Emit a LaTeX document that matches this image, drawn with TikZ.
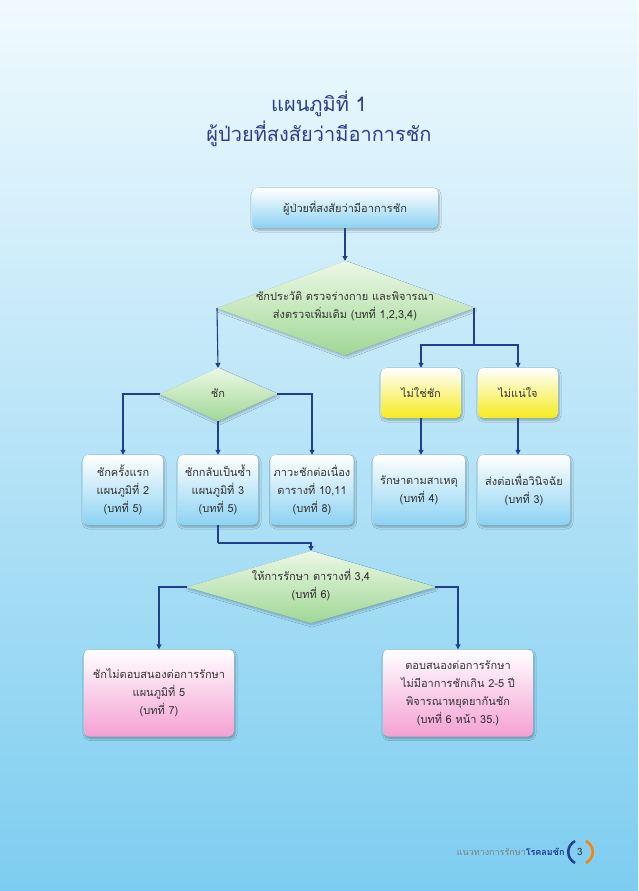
\documentclass[tikz,border=0pt]{standalone}
\usepackage{fontspec}
\setmainfont{Loma}[Script=Thai]
\usetikzlibrary{shadows.blur,arrows.meta}
\definecolor{arr}{HTML}{1F3F8F}
\definecolor{txt}{HTML}{333333}
\definecolor{ttl}{HTML}{2C3E8F}
\definecolor{bluef}{RGB}{140,210,243}
\definecolor{yelf}{RGB}{245,235,30}
\definecolor{pinkf}{RGB}{244,160,210}
\definecolor{grnf}{RGB}{160,215,150}
\definecolor{grnt}{RGB}{236,248,228}
\definecolor{bgt}{RGB}{240,250,254}
\definecolor{bgb}{RGB}{125,205,240}
\tikzset{
  bx/.style={rounded corners=5pt, top color=white, bottom color=#1, align=center, text=txt,
    font=\fontsize{11}{18}\selectfont, blur shadow={shadow blur steps=5, shadow xshift=1pt, shadow yshift=-2pt, shadow opacity=30}},
  dia/.style={top color=grnt, bottom color=grnf, blur shadow={shadow blur steps=5, shadow xshift=1pt, shadow yshift=-2pt, shadow opacity=25}},
  lbl/.style={align=center, text=txt, font=\fontsize{11}{18}\selectfont},
  ar/.style={draw=arr, line width=1.1pt, -{Triangle[length=5pt,width=5pt]}},
  ln/.style={draw=arr, line width=1.1pt}
}
\begin{document}
\begin{tikzpicture}[x=1pt,y=-1pt]
\shade[top color=bgt, bottom color=bgb] (0,0) rectangle (638,891);
\useasboundingbox (0,0) rectangle (638,891);
% title
\node[font=\fontsize{20}{24}\selectfont, text=ttl] (t1) at (319,104) {แผนภูมิที่ 1};
\node[font=\fontsize{20}{24}\selectfont, text=ttl] (t2) at (319,134) {ผู้ป่วยที่สงสัยว่ามีอาการชัก};
% top box
\node[bx=bluef, minimum width=186pt, minimum height=40pt] (b0) at (345,208) {ผู้ป่วยที่สงสัยว่ามีอาการชัก};
% diamond 1
\coordinate (d1t) at (345,261); \coordinate (d1b) at (345,355);
\coordinate (d1l) at (217,308); \coordinate (d1r) at (474,308);
\path[dia] (d1t)--(d1r)--(d1b)--(d1l)--cycle;
\node[lbl] (d1) at (345,306) {ซักประวัติ ตรวจร่างกาย และพิจารณา\\ส่งตรวจเพิ่มเติม (บทที่ 1,2,3,4)};
% diamond 2
\coordinate (d2t) at (218,368); \coordinate (d2b) at (218,421);
\coordinate (d2l) at (160,394); \coordinate (d2r) at (277,394);
\path[dia] (d2t)--(d2r)--(d2b)--(d2l)--cycle;
\node[lbl] (d2) at (218,393) {ชัก};
% yellow
\node[bx=yelf, minimum width=80pt, minimum height=50pt] (y1) at (421,393) {ไม่ใช่ชัก};
\node[bx=yelf, minimum width=80pt, minimum height=50pt] (y2) at (518,393) {ไม่แน่ใจ};
% row boxes
\node[bx=bluef, minimum width=80pt, minimum height=70pt] (ba) at (123,490) {ชักครั้งแรก\\แผนภูมิที่ 2\\(บทที่ 5)};
\node[bx=bluef, minimum width=80pt, minimum height=70pt] (bb) at (218,490) {ชักกลับเป็นซ้ำ\\แผนภูมิที่ 3\\(บทที่ 5)};
\node[bx=bluef, minimum width=80pt, minimum height=70pt] (bc) at (312,490) {ภาวะชักต่อเนื่อง\\ตารางที่ 10,11\\(บทที่ 8)};
\node[bx=bluef, minimum width=92pt, minimum height=70pt] (bd) at (419,490) {รักษาตามสาเหตุ\\(บทที่ 4)};
\node[bx=bluef, minimum width=92pt, minimum height=70pt] (be) at (524,490) {ส่งต่อเพื่อวินิจฉัย\\(บทที่ 3)};
% diamond 3
\coordinate (d3t) at (311,551); \coordinate (d3b) at (311,623);
\coordinate (d3l) at (187,587); \coordinate (d3r) at (435,587);
\path[dia] (d3t)--(d3r)--(d3b)--(d3l)--cycle;
\node[lbl] (d3) at (311,585) {ให้การรักษา ตารางที่ 3,4\\(บทที่ 6)};
% pink
\node[bx=pinkf, minimum width=150pt, minimum height=87pt] (p1) at (159,693) {ชักไม่ตอบสนองต่อการรักษา\\แผนภูมิที่ 5\\(บทที่ 7)};
\node[bx=pinkf, minimum width=150pt, minimum height=87pt] (p2) at (458,693) {ตอบสนองต่อการรักษา\\ไม่มีอาการชักเกิน 2-5 ปี\\พิจารณาหยุดยากันชัก\\(บทที่ 6 หน้า 35.)};
% connectors
\draw[ar] (b0.south) -- (d1t);
\draw[ar] (d1l) -- (d2t);
\coordinate (j1) at (474,345);
\draw[ln] (d1r) -- (j1);
\draw[ar] (j1) -| (y2.north);
\draw[ar] (j1) -| (y1.north);
\draw[ar] (d2l) -| (ba.north);
\draw[ar] (d2b) -- (bb.north);
\draw[ar] (d2r) -| (bc.north);
\draw[ar] (y1.south) -- (y1.south |- bd.north);
\draw[ar] (y2.south) -- (y2.south |- be.north);
\coordinate (j2) at (218,543);
\draw[ln] (bb.south) -- (j2);
\draw[ar] (j2) -| (d3t);
\draw[ar] (d3l) -| (p1.north);
\draw[ar] (d3r) -| (p2.north);
% footer
\node[anchor=east, font=\fontsize{9}{10}\selectfont] (ft) at (568,852) {\textcolor{gray}{แนวทางการรักษา}\textcolor{arr}{\bfseries โรคลมชัก}};
\node[font=\fontsize{10}{10}\selectfont, text=txt] (pg) at (580,852) {3};
\draw[arr, line width=2.5pt] (575,841) .. controls (566,846) and (566,858) .. (575,863);
\draw[orange, line width=2.5pt] (586,841) .. controls (595,846) and (595,858) .. (586,863);
\end{tikzpicture}
\end{document}
